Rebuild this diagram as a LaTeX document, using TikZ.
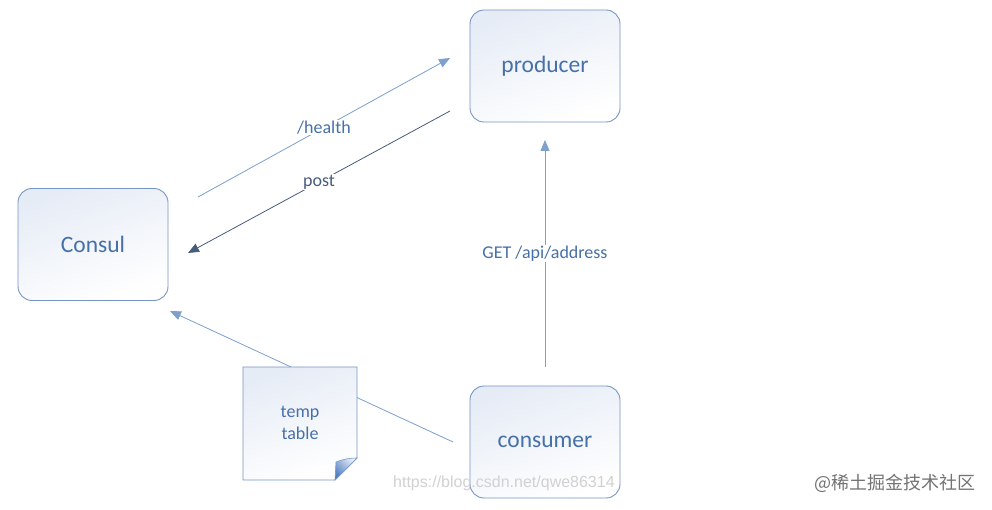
\documentclass[tikz,border=0pt]{standalone}
\usepackage{fontspec}
\setmainfont{Carlito}
\newfontfamily\cjkfont{Noto Sans CJK SC}
\newfontfamily\wmfont{Liberation Sans}
\usetikzlibrary{arrows.meta}
\definecolor{boxline}{RGB}{120,150,195}
\definecolor{boxtop}{RGB}{230,236,246}
\definecolor{txtblue}{RGB}{70,112,168}
\definecolor{arrlight}{RGB}{125,160,205}
\definecolor{arrdark}{RGB}{72,92,125}
\definecolor{folddark}{RGB}{80,125,195}
\tikzset{
  svcbox/.style={draw=boxline, line width=0.9pt, rounded corners=14pt,
    minimum width=150pt, minimum height=112pt, top color=boxtop, bottom color=white,
    shading angle=20, text=txtblue, font=\fontsize{23.5}{26}\selectfont},
  lbl/.style={fill=white, inner sep=1pt, text=txtblue, font=\fontsize{18}{21}\selectfont},
  conn/.style={line width=0.8pt, draw=arrlight, -{Triangle[length=11pt,width=9pt]}},
  conndark/.style={line width=0.8pt, draw=arrdark, -{Triangle[length=11pt,width=9pt]}},
}
\begin{document}
\begin{tikzpicture}[x=1pt,y=-1pt]
\path[use as bounding box, fill=white] (0,0) rectangle (992,510);

% nodes
\node[svcbox] (consul) at (93,244.5) {\raisebox{0pt}{Consul}};
\node[svcbox] (producer) at (545,66) {\raisebox{-2pt}{producer}};
\node[svcbox] (consumer) at (545,442) {\raisebox{-2pt}{consumer}};

% free ends
\coordinate (h1) at (198,197);
\coordinate (h2) at (450,58);
\coordinate (p1) at (450,111);
\coordinate (p2) at (188,253);
\coordinate (g1) at (545,367);
\coordinate (g2) at (545,140);
\coordinate (c1) at (453,442);
\coordinate (c2) at (170,311);

% connectors
\draw[conn] (h1) -- node[lbl, pos=0.5] {/health} (h2);
\draw[conndark] (p1) -- node[lbl, text=arrdark, pos=0.5] {post} (p2);
\draw[conn] (g1) -- node[lbl, pos=0.5] {GET /api/address} (g2);
\draw[conn] (c1) -- (c2);

% note
\shade[top color=boxtop, bottom color=white, shading angle=20, draw=boxline, line width=0.9pt]
  (243,367) -- (357,367) -- (357,458) -- (335,480) -- (243,480) -- cycle;
\shade[left color=folddark, right color=boxtop, shading angle=135, draw=boxline, line width=0.6pt]
  (357,458) -- (335,480) -- (336,462) to[bend left=10] cycle;
\node[text=txtblue, font=\fontsize{18}{22}\selectfont, align=center] (note) at (300,423) {temp\\table};

% watermarks
\node[anchor=west, text=black!18, font=\wmfont\fontsize{16}{20}\selectfont, inner sep=0pt] (wm1) at (393,483) {https://blog.csdn.net/qwe86314};
\node[anchor=west, text=black!55, font=\cjkfont\fontsize{18}{20}\selectfont, inner sep=0pt] (wm2) at (814,483) {@稀土掘金技术社区};
\end{tikzpicture}
\end{document}
